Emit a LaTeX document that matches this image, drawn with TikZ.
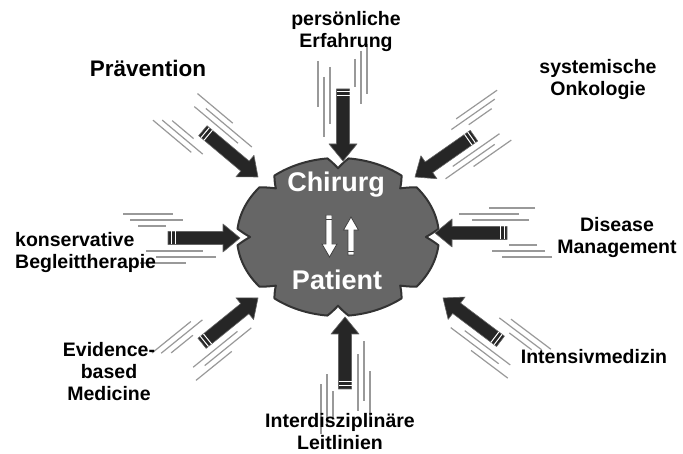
\documentclass[tikz,border=0pt]{standalone}
\usepackage{fontspec}
\setmainfont{Liberation Sans}
\usepackage{tikz}

\begin{document}
\begin{tikzpicture}[
  x=1pt, y=1pt,
  declare function={notch(\a)=1-0.13*max(0,1-abs(mod(\a+22.5,45)-22.5)/6);},
  blob/.style={fill=black!60, draw=black!80, line width=2pt, line join=round},
  topic/.style={font=\fontsize{19.5}{22}\selectfont\bfseries, align=center, inner sep=0pt},
  core/.style={font=\fontsize{27}{30}\selectfont\bfseries, text=white, inner sep=0pt},
  bigarrow/.style={fill=black!85, draw=black!60, line width=0.6pt, line join=round},
  smallarrow/.style={fill=white, draw=black!75, line width=0.8pt},
  speed/.style={draw=black!40, line width=1.2pt}
]
\useasboundingbox (0,0) rectangle (683,454);
\fill[white] (0,0) rectangle (683,454);

% centre
\draw[blob] plot[domain=0:359.5, samples=720, variable=\t]
  ({338+101*notch(\t)*cos(\t)}, {217+79*notch(\t)*sin(\t)}) -- cycle;
\coordinate (centre) at (338,217);

\node[core, anchor=base] (chirurg) at (336,262) {Chirurg};
\node[core, anchor=base] (patient) at (337,164) {Patient};

\draw[smallarrow] (326,239) -- (332,239) -- (332,210) -- (337,210) -- (329.5,197) -- (322,210) -- (326,210) -- cycle;
\draw[black!75, line width=0.8pt] (326,235) -- (332,235);
\draw[smallarrow] (348,199) -- (354,199) -- (354,224) -- (358.5,224) -- (351,237) -- (343.5,224) -- (348,224) -- cycle;
\draw[black!75, line width=0.8pt] (348,203) -- (354,203);

% arrows: tip x / tip y / angle / mirror
\foreach \tx/\ty/\ang/\m [count=\i] in {258/277/-40/-1, 343/293/-90/1, 415/277/-145/-1, 435/221/180/1,
                                        443/156/143/-1, 345/137/90/1, 258/156/39/1, 240/216/0/1}{
  \begin{scope}[shift={(\tx,\ty)}, rotate=\ang, yscale=\m]
    \coordinate (tip\i) at (0,0);
    \coordinate (tail\i) at (-72,0);
    \foreach \ua/\ub/\v in {-117/-67/24, -110/-57/18, -102/-74/12, -94/-37/-13, -84/-24/-19, -100/-54/-25}
      \draw[speed] (\ua,\v) -- (\ub,\v);
    \draw[bigarrow] (-72,-6.5) -- (-17,-6.5) -- (-17,-14) -- (tip\i) -- (-17,14) -- (-17,6.5) -- (-72,6.5) -- cycle;
    \draw[white, line width=1pt] (-69,-6.5) -- (-69,6.5) (-65,-6.5) -- (-65,6.5);
  \end{scope}
}

% topics
\node[topic, font=\fontsize{22.5}{26}\selectfont\bfseries] (praevention) at (148,386) {Prävention};
\node[topic] (erfahrung) at (346,422) {persönliche\\Erfahrung};
\node[topic] (onkologie) at (598,374) {systemische\\Onkologie};
\node[topic] (management) at (617,216) {Disease\\Management};
\node[topic] (intensiv) at (594,97) {Intensivmedizin};
\node[topic] (leitlinien) at (340,22) {Interdisziplinäre\\Leitlinien};
\node[topic] (ebm) at (109,82) {Evidence-\\based\\Medicine};
\node[topic, align=left, anchor=west] (begleit) at (15,201) {konservative\\Begleittherapie};

\end{tikzpicture}
\end{document}
